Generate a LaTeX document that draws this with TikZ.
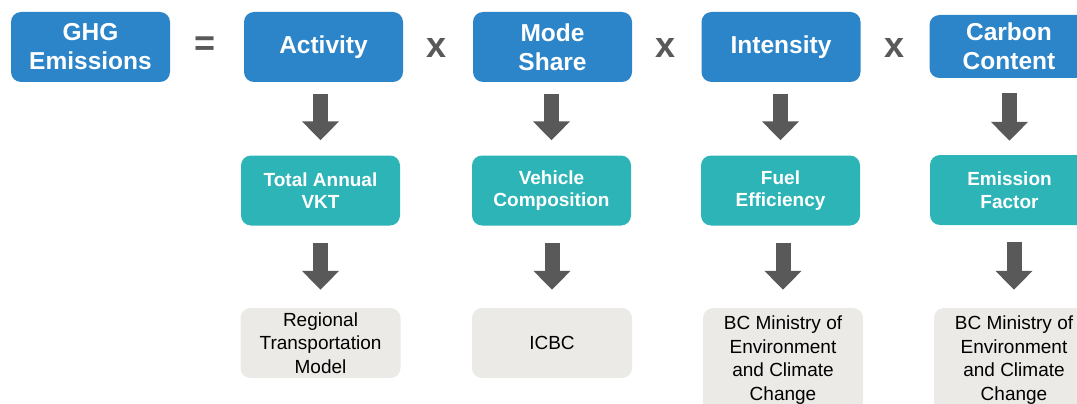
\documentclass[tikz,border=0pt]{standalone}
\usepackage{fontspec}
\setmainfont{Liberation Sans}
\usetikzlibrary{arrows.meta}
\definecolor{topblue}{HTML}{2C85C8}
\definecolor{tealbox}{HTML}{2DB4B7}
\definecolor{greybox}{HTML}{EBEAE6}
\definecolor{arrgrey}{HTML}{595959}
\tikzset{
  topbox/.style={draw=none, fill=topblue, rounded corners=10pt, minimum width=159pt, minimum height=70pt,
    text=white, font=\fontsize{24.5}{29}\selectfont\bfseries, align=center, inner sep=0pt},
  midbox/.style={draw=none, fill=tealbox, rounded corners=10pt, minimum width=159pt, minimum height=70pt,
    text=white, font=\fontsize{19}{22.5}\selectfont\bfseries, align=center, inner sep=0pt},
  srcbox/.style={draw=none, fill=greybox, rounded corners=10pt, minimum width=160pt, minimum height=70pt,
    text=black, font=\fontsize{19}{23.5}\selectfont, align=center, inner sep=0pt},
  opsym/.style={text=arrgrey, font=\fontsize{36}{36}\selectfont\bfseries, inner sep=0pt},
  blockarrow/.style={draw=arrgrey, line width=15pt, -{Triangle[width=36pt,length=19pt]}},
}
\begin{document}
\begin{tikzpicture}[x=1pt,y=-1pt]
\useasboundingbox (0,0) rectangle (1077,404);
\clip (0,0) rectangle (1077,404);
% top row
\node[topbox] (ghg) at (90.5,47) {GHG\\Emissions};
\node[opsym] (eq) at (205,46) {=};
\node[topbox] (act) at (323.5,47) {Activity};
\node[opsym] (x1) at (437,48) {x};
\node[topbox] (mode) at (552.5,47) {Mode\\Share};
\node[opsym] (x2) at (666,48) {x};
\node[topbox] (int) at (781,47) {Intensity};
\node[opsym] (x3) at (895,48) {x};
\node[topbox, minimum height=63pt] (carb) at (1009,46.5) {Carbon\\Content};
% middle row
\node[midbox] (vkt) at (320.5,190.5) {Total Annual\\VKT};
\node[midbox] (veh) at (551.5,190.5) {Vehicle\\Composition};
\node[midbox] (fuel) at (780.5,190.5) {Fuel\\Efficiency};
\node[midbox] (ef) at (1009.5,190) {Emission\\Factor};
% bottom row
\node[srcbox] (rtm) at (320.5,343) {Regional\\Transportation\\Model};
\node[srcbox] (icbc) at (552,343) {ICBC};
\node[srcbox, minimum height=104pt] (bc1) at (783,360) {BC Ministry of\\Environment\\and Climate\\Change};
\node[srcbox, minimum height=104pt] (bc2) at (1014,360) {BC Ministry of\\Environment\\and Climate\\Change};
% arrows
\draw[blockarrow, shorten <=12pt, shorten >=15pt] (vkt.north |- act.south) -- (vkt.north);
\draw[blockarrow, shorten <=12pt, shorten >=15pt] (veh.north |- mode.south) -- (veh.north);
\draw[blockarrow, shorten <=12pt, shorten >=15pt] (fuel.north |- int.south) -- (fuel.north);
\draw[blockarrow, shorten <=15pt, shorten >=14pt] (ef.north |- carb.south) -- (ef.north);
\draw[blockarrow, shorten <=17pt, shorten >=18pt] (rtm.north |- vkt.south) -- (rtm.north);
\draw[blockarrow, shorten <=17pt, shorten >=18pt] (icbc.north |- veh.south) -- (icbc.north);
\draw[blockarrow, shorten <=17pt, shorten >=18pt] (bc1.north |- fuel.south) -- (bc1.north);
\draw[blockarrow, shorten <=17pt, shorten >=18pt] (bc2.north |- ef.south) -- (bc2.north);
\end{tikzpicture}
\end{document}
